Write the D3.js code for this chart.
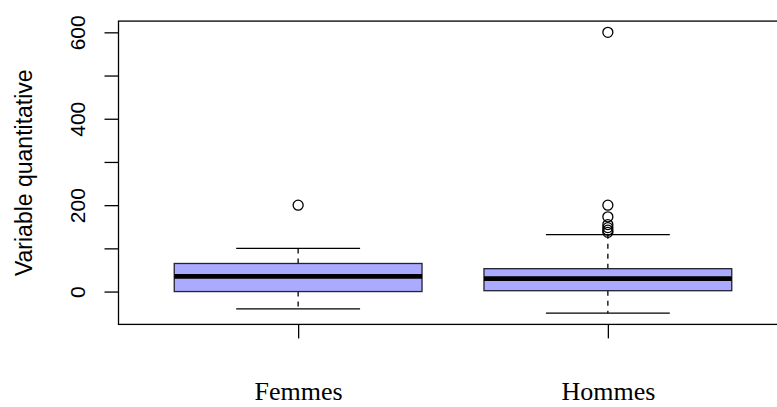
<!DOCTYPE html>
<html>
<head>
<meta charset="utf-8">
<script src="https://cdn.jsdelivr.net/npm/d3@7"></script>
<style>
  html, body { margin: 0; padding: 0; background: #ffffff; }
  svg { display: block; }
</style>
</head>
<body>
<svg id="chart" width="777" height="407"></svg>
<script>
// Box-plot summary per group
const categories    = ["Femmes", "Hommes"];
const lowerWhisker  = [-40, -50];
const q1            = [0, 2];
const median        = [35, 30];
const q3            = [65, 53];
const upperWhisker  = [100, 132];
const outliers      = [[200], [600, 200, 173, 155, 148, 142, 137]];

// Axis ticks
const yTicks      = [0, 100, 200, 300, 400, 500, 600];
const yTickLabels = ["0", "", "200", "", "400", "", "600"];
const yTitle      = "Variable quantitative";

const svg = d3.select("#chart");

// Plot region: x positions 1..n padded like base graphics (0.5..n+0.5, +4%)
const plotLeft = 118.5, plotRight = 787.5, plotTop = 21.1, plotBottom = 324.4;
const x = d3.scaleLinear().domain([0.42, 2.58]).range([plotLeft, plotRight]);
const y = d3.scaleLinear().domain([-76, 626]).range([plotBottom, plotTop]);

const boxWidth = 0.8, capWidth = 0.4;
const fill = "#aaaaff";
const ink = "#000000";

const data = categories.map((c, i) => ({
  name: c, pos: i + 1,
  lo: lowerWhisker[i], q1: q1[i], med: median[i], q3: q3[i], hi: upperWhisker[i],
  out: outliers[i]
}));

const g = svg.append("g");

// Whiskers (dashed), from hinge out to whisker end
g.selectAll("line.wup").data(data).enter().append("line")
  .attr("x1", d => x(d.pos)).attr("x2", d => x(d.pos))
  .attr("y1", d => y(d.q3)).attr("y2", d => y(d.hi))
  .attr("stroke", ink).attr("stroke-width", 1.3).attr("stroke-dasharray", "5,5");
g.selectAll("line.wlo").data(data).enter().append("line")
  .attr("x1", d => x(d.pos)).attr("x2", d => x(d.pos))
  .attr("y1", d => y(d.q1)).attr("y2", d => y(d.lo))
  .attr("stroke", ink).attr("stroke-width", 1.3).attr("stroke-dasharray", "5,5");

// Staples
["hi", "lo"].forEach(k => {
  g.selectAll("line.cap-" + k).data(data).enter().append("line")
    .attr("x1", d => x(d.pos - capWidth / 2)).attr("x2", d => x(d.pos + capWidth / 2))
    .attr("y1", d => y(d[k])).attr("y2", d => y(d[k]))
    .attr("stroke", ink).attr("stroke-width", 1.3);
});

// Boxes
g.selectAll("rect.box").data(data).enter().append("rect")
  .attr("x", d => x(d.pos - boxWidth / 2))
  .attr("width", d => x(d.pos + boxWidth / 2) - x(d.pos - boxWidth / 2))
  .attr("y", d => y(d.q3))
  .attr("height", d => y(d.q1) - y(d.q3))
  .attr("fill", fill).attr("stroke", "#222233").attr("stroke-width", 1.3);

// Medians
g.selectAll("line.med").data(data).enter().append("line")
  .attr("x1", d => x(d.pos - boxWidth / 2)).attr("x2", d => x(d.pos + boxWidth / 2))
  .attr("y1", d => y(d.med)).attr("y2", d => y(d.med))
  .attr("stroke", ink).attr("stroke-width", 4.8);

// Outliers
data.forEach(d => {
  g.selectAll(null).data(d.out).enter().append("circle")
    .attr("cx", x(d.pos)).attr("cy", v => y(v)).attr("r", 5)
    .attr("fill", "none").attr("stroke", ink).attr("stroke-width", 1.3);
});

// Frame
svg.append("rect")
  .attr("x", plotLeft).attr("y", plotTop)
  .attr("width", plotRight - plotLeft).attr("height", plotBottom - plotTop)
  .attr("fill", "none").attr("stroke", ink).attr("stroke-width", 1.3);

// Y axis
const yAxis = d3.axisLeft(y).tickValues(yTicks)
  .tickFormat((v, i) => yTickLabels[i]).tickSize(14).tickPadding(0);
const ya = svg.append("g").attr("transform", `translate(${plotLeft},0)`).call(yAxis);
ya.select(".domain").remove();
ya.selectAll(".tick line").attr("stroke", ink).attr("stroke-width", 1.3);
ya.selectAll(".tick text")
  .attr("font-family", "Liberation Sans, Arial, sans-serif").attr("font-size", 21)
  .attr("fill", ink)
  .attr("text-anchor", "middle")
  .attr("dy", null)
  .attr("x", null)
  .attr("transform", "translate(-33.5,0) rotate(-90)");

// X axis (ticks at the group positions)
const xAxis = d3.axisBottom(x).tickValues(data.map(d => d.pos))
  .tickFormat((v, i) => categories[i]).tickSize(14).tickPadding(0);
const xa = svg.append("g").attr("transform", `translate(0,${plotBottom})`).call(xAxis);
xa.select(".domain").remove();
xa.selectAll(".tick line").attr("stroke", ink).attr("stroke-width", 1.3);
xa.selectAll(".tick text")
  .attr("font-family", "Liberation Serif, Times New Roman, serif").attr("font-size", 26)
  .attr("fill", ink)
  .attr("dy", null)
  .attr("y", 76);

// Y title
svg.append("text")
  .attr("transform", `translate(32,${(plotTop + plotBottom) / 2}) rotate(-90)`)
  .attr("text-anchor", "middle")
  .attr("font-family", "Liberation Sans, Arial, sans-serif").attr("font-size", 23)
  .attr("fill", ink)
  .text(yTitle);
</script>
</body>
</html>
